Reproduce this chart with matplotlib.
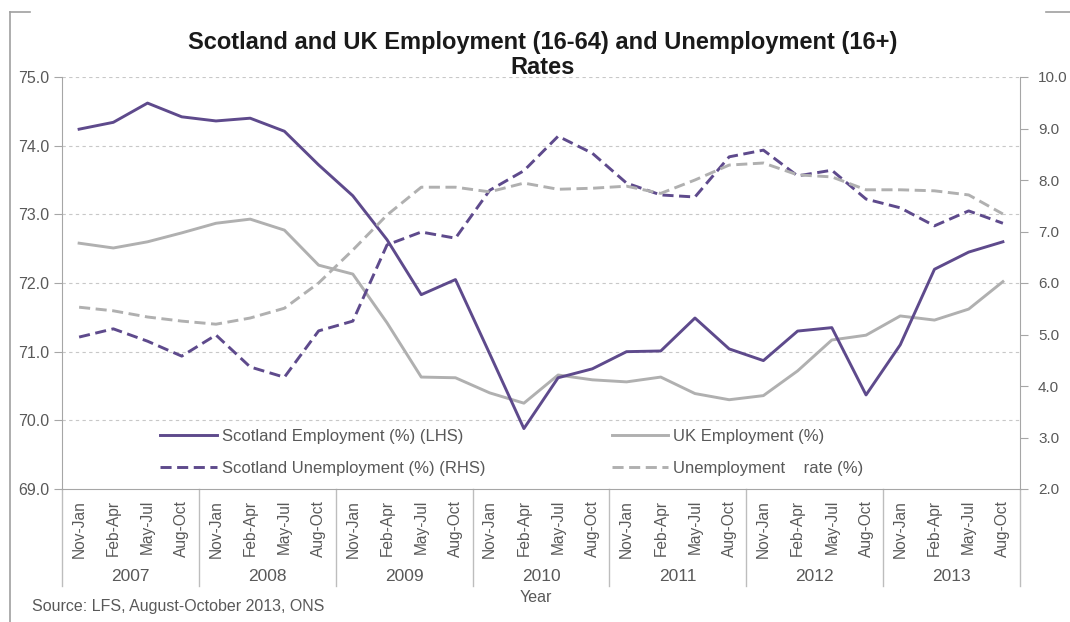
import matplotlib
matplotlib.use("Agg")
import matplotlib.pyplot as plt
from matplotlib.lines import Line2D
import matplotlib.transforms as mtransforms
import numpy as np

plt.rcParams['font.family'] = ['Liberation Sans', 'DejaVu Sans']

years = ['2007', '2008', '2009', '2010', '2011', '2012', '2013']
periods = ['Nov-Jan', 'Feb-Apr', 'May-Jul', 'Aug-Oct']

scot_emp = [74.24, 74.34, 74.62, 74.42, 74.36, 74.40, 74.21, 73.72,
            73.27, 72.63, 71.83, 72.05, 70.97, 69.88, 70.62, 70.75,
            71.00, 71.01, 71.49, 71.04, 70.87, 71.30, 71.35, 70.37,
            71.10, 72.20, 72.45, 72.60]
uk_emp = [72.58, 72.51, 72.60, 72.73, 72.87, 72.93, 72.77, 72.26,
          72.13, 71.42, 70.63, 70.62, 70.40, 70.25, 70.66, 70.59,
          70.56, 70.63, 70.39, 70.30, 70.36, 70.72, 71.17, 71.24,
          71.52, 71.46, 71.62, 72.02]
scot_unemp = [4.95, 5.11, 4.87, 4.58, 4.99, 4.37, 4.17, 5.07,
              5.26, 6.74, 6.99, 6.87, 7.80, 8.18, 8.85, 8.52,
              7.94, 7.71, 7.67, 8.45, 8.58, 8.08, 8.19, 7.63,
              7.46, 7.11, 7.40, 7.16]
uk_unemp = [5.53, 5.46, 5.34, 5.26, 5.20, 5.32, 5.51, 6.00,
            6.64, 7.32, 7.86, 7.86, 7.77, 7.94, 7.82, 7.84,
            7.88, 7.74, 8.00, 8.29, 8.33, 8.10, 8.06, 7.81,
            7.81, 7.79, 7.71, 7.34]

purple = '#5e4a8c'
grey = '#b0b0b0'
txt = '#595959'

fig = plt.figure(figsize=(10.7, 6.22), dpi=100)
ax = fig.add_axes([62/1070, 1 - 489/622, (1020-62)/1070, (489-77)/622])
ax2 = ax.twinx()

x = np.arange(len(scot_emp))

l1, = ax.plot(x, scot_emp, color=purple, lw=2.1, label='Scotland Employment (%) (LHS)', zorder=4)
l2, = ax.plot(x, uk_emp, color=grey, lw=2.1, label='UK Employment (%)', zorder=3)
l3, = ax2.plot(x, scot_unemp, color=purple, lw=2.1, ls=(0, (3.8, 1.9)), label='Scotland Unemployment (%) (RHS)')
l4, = ax2.plot(x, uk_unemp, color=grey, lw=2.1, ls=(0, (3.8, 1.9)), label='Unemployment    rate (%)')

ax.set_xlim(-0.5, len(x) - 0.5)
ax.set_ylim(69, 75)
ax2.set_ylim(2, 10)
ax.set_yticks(np.arange(69, 75.1, 1))
ax.set_yticklabels([f'{v:.1f}' for v in np.arange(69, 75.1, 1)])
ax2.set_yticks(np.arange(2, 10.1, 1))
ax2.set_yticklabels([f'{v:.1f}' for v in np.arange(2, 10.1, 1)])

for v in range(70, 76):
    ax.axhline(v, color='#c8c8c8', lw=0.8, ls=(0, (3, 3)), zorder=1)

for a in (ax, ax2):
    a.spines['top'].set_visible(False)
    for s in ('left', 'right', 'bottom'):
        a.spines[s].set_color('#a6a6a6')
    a.tick_params(axis='y', colors='#a6a6a6', labelcolor=txt, labelsize=11.5, length=6)
ax.tick_params(axis='y', pad=3)
ax2.tick_params(axis='y', pad=7, labelsize=11)
ax.spines['right'].set_visible(False)
ax2.spines['left'].set_visible(False)
ax2.spines['bottom'].set_visible(False)

ax.set_xticks(x)
ax.set_xticklabels(periods * len(years), rotation=90, fontsize=11.2, color=txt)
ax.tick_params(axis='x', length=0, pad=8)

trans = mtransforms.blended_transform_factory(ax.transData, ax.transAxes)
for i in range(len(years) + 1):
    ax.plot([i * 4 - 0.5] * 2, [0, -0.235], transform=trans, color='#bdbdbd',
            lw=1, clip_on=False)
for i, yr in enumerate(years):
    ax.text(i * 4 + 1.5, -0.212, yr, transform=trans, ha='center', va='center',
            fontsize=12.5, color=txt)

fig.text(536/1070, 1 - 597/622, 'Year', ha='center', va='center', fontsize=11.5, color=txt)
fig.text(32/1070, 1 - 607/622, 'Source: LFS, August-October 2013, ONS', ha='left',
         va='center', fontsize=11.5, color=txt)

fig.text(543/1070, 1 - 55/622,
         'Scotland and UK Employment (16-64) and Unemployment (16+)\nRates',
         ha='center', va='center', fontsize=17, fontweight='bold', color='#1a1a1a',
         linespacing=1.15)

leg = ax2.legend(handles=[l1, l3, l2, l4], ncol=2, frameon=False,
                 loc='upper left', bbox_to_anchor=(83/958, (489-414)/412),
                 fontsize=12, handlelength=3.4, handletextpad=0.3,
                 columnspacing=7.6, labelspacing=1.0)
for t in leg.get_texts():
    t.set_color(txt)

# outer frame pieces
fig.add_artist(Line2D([10/1070, 10/1070], [0, 1 - 12/622], color='#a0a0a0', lw=1.2))
fig.add_artist(Line2D([10/1070, 30/1070], [1 - 12/622] * 2, color='#a0a0a0', lw=1.2))
fig.add_artist(Line2D([1046/1070, 1], [1 - 12/622] * 2, color='#a0a0a0', lw=1.2))

fig.savefig('out.png', dpi=100)
